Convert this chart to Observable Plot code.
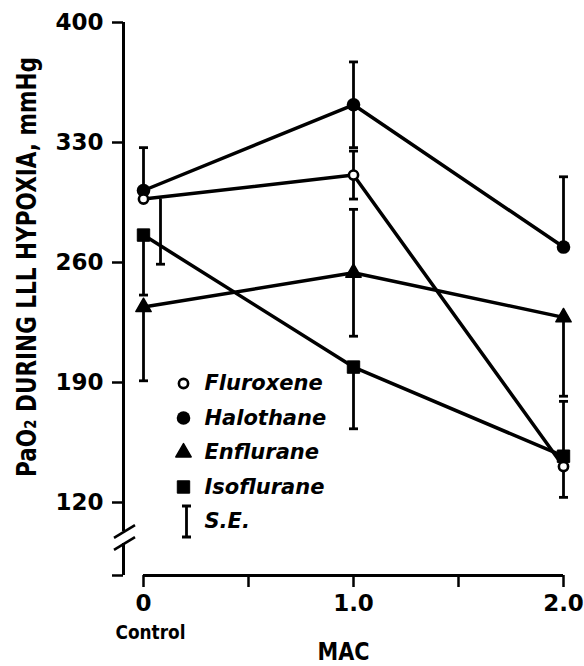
<!DOCTYPE html>
<html><head><meta charset="utf-8">
<script src="https://cdn.jsdelivr.net/npm/d3@7"></script>
<script src="https://cdn.jsdelivr.net/npm/@observablehq/plot@0.6"></script>
<style>body{margin:0;background:#fff}</style>
</head><body><div id="chart"></div>
<script>
// ---- data ----
const mac = [0, 1, 2];
const macTicks = [0, 0.5, 1, 1.5, 2];
const macLabels = ["0", "", "1.0", "", "2.0"];
const yTicks = [120, 190, 260, 330, 400];
const seriesNames = ["Fluroxene", "Halothane", "Enflurane", "Isoflurane"];
const fluroxene = [297, 311, 141];
const halothane = [302, 352, 269];
const enflurane = [234, 254, 228];
const isoflurane = [276, 199, 147];
// standard errors and which side of the point each bar is drawn on
const fluroxeneSE = [38, 14, 18];
const halothaneSE = [25, 25, 41];
const enfluraneSE = [43, 37, 46];
const isofluraneSE = [35, 36, 32];
const fluroxeneSide = ["down", "both", "down"];
const halothaneSide = ["up", "both", "up"];
const enfluraneSide = ["down", "both", "down"];
const isofluraneSide = ["down", "down", "up"];
const legendLabels = ["Fluroxene", "Halothane", "Enflurane", "Isoflurane", "S.E."];
const yTitle = "PaO\u2082 DURING LLL HYPOXIA, mmHg";
const xTitle = "MAC";
const controlLabel = "Control";

// ---- build tables ----
const valuesBy = {Fluroxene: fluroxene, Halothane: halothane, Enflurane: enflurane, Isoflurane: isoflurane};
const seBy = {Fluroxene: fluroxeneSE, Halothane: halothaneSE, Enflurane: enfluraneSE, Isoflurane: isofluraneSE};
const sideBy = {Fluroxene: fluroxeneSide, Halothane: halothaneSide, Enflurane: enfluraneSide, Isoflurane: isofluraneSide};
const points = seriesNames.flatMap(s => mac.map((m, i) => ({series: s, mac: m, value: valuesBy[s][i]})));
const bars = seriesNames.flatMap(s => mac.map((m, i) => {
  const v = valuesBy[s][i], e = seBy[s][i], side = sideBy[s][i];
  return {series: s, mac: m, lo: side === "up" ? v : v - e, hi: side === "down" ? v : v + e,
    caps: side === "up" ? [v + e] : side === "down" ? [v - e] : [v - e, v + e]};
}));
const caps = bars.flatMap(b => b.caps.map(c => ({series: b.series, mac: b.mac, y: c})));
const isOffset = d => d.series === "Fluroxene" && d.mac === 0;

// ---- layout ----
const W = 584, H = 666, mL = 123, mR = 21, mT = 22, mB = 91;
const pxPerMac = 210;
const xMin = -(143 - mL) / pxPerMac;
const yMin = 400 - 280 * (H - mB - mT) / 480;
const yPx = (H - mB - mT) / (400 - yMin);
const FONT = "'DejaVu Sans', sans-serif";

const hbar = {draw(ctx, size) { const r = Math.sqrt(size / Math.PI); ctx.moveTo(-r, 0); ctx.lineTo(r, 0); }};
const slash = {draw(ctx, size) { const r = Math.sqrt(size / Math.PI); ctx.moveTo(-r, r * 0.6); ctx.lineTo(r, -r * 0.6); }};
const ibeam = {draw(ctx, size) { const r = Math.sqrt(size / Math.PI); const c = 4.5;
  ctx.moveTo(0, -r); ctx.lineTo(0, r); ctx.moveTo(-c, -r); ctx.lineTo(c, -r); ctx.moveTo(-c, r); ctx.lineTo(c, r); }};

const symStyle = {
  Fluroxene: {symbol: "circle", r: 4.6, fill: "white", stroke: "black", strokeWidth: 2.6},
  Halothane: {symbol: "circle", r: 6.8, fill: "black"},
  Enflurane: {symbol: "triangle", r: 5.7, fill: "black", stroke: "black", strokeWidth: 1.5, strokeLinejoin: "round"},
  Isoflurane: {symbol: "square", r: 7, fill: "black", stroke: "black", strokeWidth: 1, strokeLinejoin: "round"}
};

// legend positions (pixel rows converted through the y scale)
const legendRowPx = i => 383 + i * 34.5;
const pxToY = p => 400 - (p - mT) / yPx;
const pxToX = p => xMin + (p - mL) / pxPerMac;
const legendRows = legendLabels.map((l, i) => ({label: l, y: pxToY(legendRowPx(i))}));

const brkHi = pxToY(531), brkLo = pxToY(543);

const marks = [
  // y axis line with break
  Plot.ruleX([xMin], {y1: brkHi, y2: 400, strokeWidth: 3}),
  Plot.ruleX([xMin], {y1: yMin, y2: brkLo, strokeWidth: 3}),
  Plot.dot([brkHi, brkLo], {x: xMin, y: d => d, symbol: slash, r: 10.5, stroke: "black", strokeWidth: 2.6, dx: 1}),
  // x axis line
  Plot.ruleY([yMin], {x1: 0, x2: 2, strokeWidth: 3}),
  Plot.axisX({ticks: macTicks, tickFormat: (d, i) => macLabels[i], tickSize: 12, tickPadding: 7, strokeWidth: 2.5,
    fontSize: 23, fontWeight: "bold", label: null}),
  Plot.axisY({ticks: yTicks, tickSize: 11, tickPadding: 9, strokeWidth: 2.5, fontSize: 23, fontWeight: "bold", label: null}),
  Plot.axisY({ticks: [yMin], tickSize: 11, tickFormat: () => "", strokeWidth: 2.5, label: null}),
  // titles
  Plot.text([yTitle], {frameAnchor: "left", textAnchor: "middle", lineAnchor: "middle", dx: -96, dy: -32, rotate: -90,
    fontSize: 27, fontWeight: "bold", text: d => d}),
  Plot.text([controlLabel], {x: 0, frameAnchor: "bottom", lineAnchor: "middle", dx: 7, dy: 57, fontSize: 19, fontWeight: "bold", text: d => d}),
  Plot.text([xTitle], {x: 1, frameAnchor: "bottom", lineAnchor: "middle", dx: -10, dy: 77, fontSize: 24, fontWeight: "bold", text: d => d}),
  // lines
  ...seriesNames.map(s => Plot.line(points.filter(d => d.series === s), {x: "mac", y: "value", stroke: "black", strokeWidth: 3.5})),
  // error bars
  Plot.ruleX(bars.filter(d => !isOffset(d)), {x: "mac", y1: "lo", y2: "hi", strokeWidth: 2.8}),
  Plot.ruleX(bars.filter(isOffset), {x: "mac", y1: "lo", y2: "hi", strokeWidth: 2.8, dx: 17}),
  Plot.dot(caps.filter(d => !isOffset(d)), {x: "mac", y: "y", symbol: hbar, r: 4.5, stroke: "black", strokeWidth: 2.8}),
  Plot.dot(caps.filter(isOffset), {x: "mac", y: "y", symbol: hbar, r: 4.5, stroke: "black", strokeWidth: 2.8, dx: 17}),
  // markers (fluroxene last so its open circle sits on top)
  ...["Halothane", "Enflurane", "Isoflurane", "Fluroxene"].map(s =>
    Plot.dot(points.filter(d => d.series === s), {x: "mac", y: "value", ...symStyle[s]})),
  // legend
  ...seriesNames.map((s, i) => Plot.dot([legendRows[i]], {x: pxToX(183), y: "y", ...symStyle[s]})),
  Plot.dot([legendRows[4]], {x: pxToX(186), y: "y", symbol: ibeam, r: 15.5, stroke: "black", strokeWidth: 2.8}),
  Plot.text(legendRows, {x: pxToX(204), y: "y", text: "label", textAnchor: "start", fontSize: 21, fontWeight: "bold", fontStyle: "italic"})
];

const chart = Plot.plot({
  width: W, height: H, marginLeft: mL, marginRight: mR, marginTop: mT, marginBottom: mB,
  x: {domain: [xMin, 2], label: null},
  y: {domain: [yMin, 400], label: null},
  style: {fontFamily: FONT, fontSize: "22px", color: "black", background: "white", overflow: "visible"},
  marks
});
// condense the heavy titles to the widths they have in the figure
const fit = {[yTitle]: 420, [controlLabel]: 70, [xTitle]: 52};
d3.select(chart).selectAll("text").each(function() {
  const w = fit[this.textContent];
  if (w) { this.setAttribute("textLength", w); this.setAttribute("lengthAdjust", "spacingAndGlyphs"); }
});
document.getElementById("chart").appendChild(chart);
</script>
</body></html>
